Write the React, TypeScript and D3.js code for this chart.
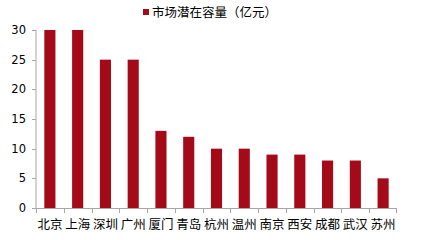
import React from "react";
import * as d3 from "d3";

const categories = ["北京", "上海", "深圳", "广州", "厦门", "青岛", "杭州", "温州", "南京", "西安", "成都", "武汉", "苏州"];
const values = [30, 30, 25, 25, 13, 12, 10, 10, 9, 9, 8, 8, 5];
const yTicks = [0, 5, 10, 15, 20, 25, 30];
const seriesName = "市场潜在容量（亿元）";

export default function App() {
  const W = 425, H = 240;
  const left = 36, right = 397, top = 30, bottom = 208;
  const x = d3.scaleBand<string>().domain(categories).range([left, right]).paddingInner(0.6).paddingOuter(0.3);
  const xb = d3.scaleBand<string>().domain(categories).range([left, right]);
  const y = d3.scaleLinear().domain([0, 30]).range([bottom, top]);
  const color = "#A50A18";
  const axisColor = "#A6A6A6";
  const font = "'Noto Sans CJK SC', 'DejaVu Sans', sans-serif";
  return (
    <svg width={W} height={H} style={{ position: "absolute", left: 0, top: 0 }} fontFamily={font}>
      <rect x={0} y={0} width={W} height={H} fill="#fff" />
      <rect x={143} y={9} width={6} height={6} fill={color} />
      <text x={152} y={16.5} fontSize={12.5} fill="#000">{seriesName}</text>
      {categories.map((c, i) => (
        <rect key={c} x={x(c)} y={y(values[i])} width={x.bandwidth()} height={bottom - y(values[i])} fill={color} />
      ))}
      <line x1={left} x2={left} y1={top} y2={bottom} stroke={axisColor} />
      <line x1={left} x2={right} y1={bottom + 0.5} y2={bottom + 0.5} stroke={axisColor} />
      {yTicks.map((t) => (
        <g key={t}>
          <line x1={left - 4} x2={left} y1={Math.round(y(t)) + 0.5} y2={Math.round(y(t)) + 0.5} stroke={axisColor} />
          <text x={26} y={y(t) + 4} fontSize={11.5} textAnchor="end" fill="#000" fontFamily="'DejaVu Sans', sans-serif">{t}</text>
        </g>
      ))}
      {categories.map((c) => (
        <line key={"t" + c} x1={Math.round(xb(c)!) + 0.5} x2={Math.round(xb(c)!) + 0.5} y1={bottom} y2={bottom + 5} stroke={axisColor} />
      ))}
      <line x1={right - 0.5} x2={right - 0.5} y1={bottom} y2={bottom + 5} stroke={axisColor} />
      {categories.map((c) => (
        <text key={"l" + c} x={xb(c)! + xb.bandwidth() / 2} y={229} fontSize={12.5} textAnchor="middle" fill="#000">{c}</text>
      ))}
    </svg>
  );
}
